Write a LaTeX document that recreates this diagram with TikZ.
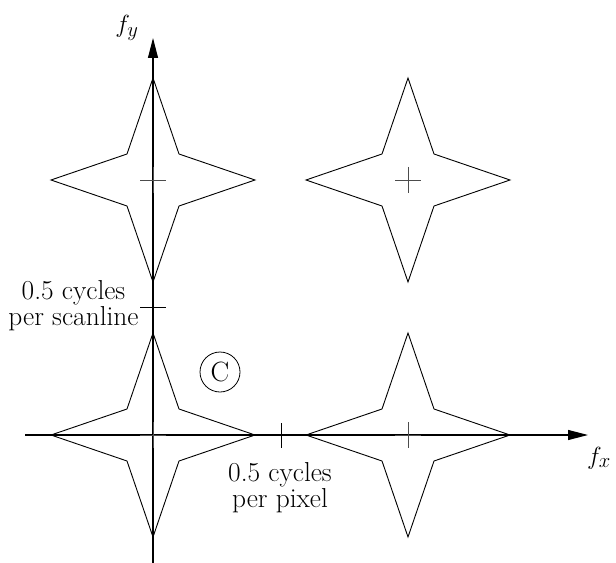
\documentclass[tikz,border=0pt]{standalone}
\usepackage{fontspec}
\usetikzlibrary{arrows.meta, positioning}
\tikzset{
  %% ── Traits ───────────────────────────────────────────────────────────
  axe/.style        = {-{Triangle[length=20bp, width=10bp]},
                       line width=1.1bp},
  contour/.style    = {line width=0.9bp, line join=miter},
  repere/.style     = {line width=0.8bp, draw=black!70},
  graduation/.style = {line width=0.9bp},
  %%
  %% ── Textes ───────────────────────────────────────────────────────────
  legende/.style    = {font=\fontsize{27.5}{26}\selectfont,
                       align=center, inner sep=0pt},
  nomAxe/.style     = {font=\fontsize{30}{30}\selectfont, inner sep=0pt},
  marque/.style     = {circle, draw, line width=0.8bp, minimum size=40bp,
                       inner sep=0pt, font=\fontsize{28}{28}\selectfont},
  %%
  %% ── Motif du spectre ─────────────────────────────────────────────────
  pics/etoile/.style = {code={
    \draw[contour] (0,-102) -- (26,-26) -- (102,0) -- (26,26) -- (0,102)
                   -- (-26,26) -- (-102,0) -- (-26,-26) -- cycle;
    \draw[repere] (-13,0) -- (13,0) (0,-13) -- (0,13);
  }},
}

\begin{document}
\begin{tikzpicture}[x=1bp, y=-1bp]
\useasboundingbox (0,0) rectangle (616,563);

%% Les deux axes de frequence.
\coordinate (fxDebut) at (25,435);
\coordinate (fxFin)   at (588,435);
\coordinate (fyDebut) at (153,563);
\coordinate (fyFin)   at (153,38);
\draw[axe] (fxDebut) -- (fxFin);
\draw[axe] (fyDebut) -- (fyFin);
\node[nomAxe] (fx) at (599,458) {$f_x$};
\node[nomAxe] (fy) at (127,28)  {$f_y$};

%% Le spectre de base et ses trois repliements.
\foreach \x/\y in {153/180, 408/180, 153/435, 408/435}
  \pic at (\x,\y) {etoile};

%% Les graduations a la demi-frequence.
\coordinate (demiPixel) at (281,435);
\coordinate (demiLigne) at (153,307.5);
\draw[graduation] ([yshift=-12.5bp]demiPixel) -- ([yshift=12.5bp]demiPixel);
\draw[graduation] ([xshift=-13bp]demiLigne) -- ([xshift=13bp]demiLigne);
\node[legende] (lPixel) at (280,488)   {0.5 cycles\\per pixel};
\node[legende] (lLigne) at (73.5,306)  {0.5 cycles\\per scanline};

\node[marque] (c) at (220,372) {C};

\end{tikzpicture}
\end{document}
